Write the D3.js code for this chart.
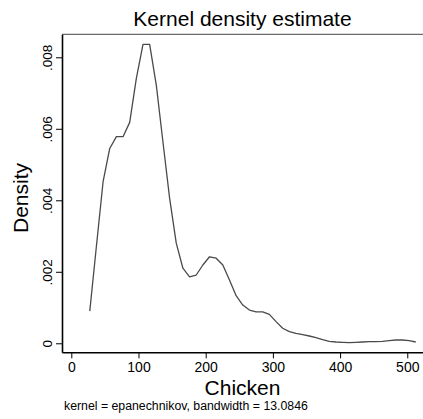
<!DOCTYPE html>
<html>
<head>
<meta charset="utf-8">
<script src="https://cdn.jsdelivr.net/npm/d3@7"></script>
<style>
  body { margin: 0; background: #fff; }
  text { font-family: Arial, "Liberation Sans", Helvetica, sans-serif; fill: #000; }
</style>
</head>
<body>
<div id="chart"></div>
<script>
// kdensity evaluation points (Chicken) and estimated density
const chicken = [27.5, 37.4, 47.3, 57.2, 67.1, 77.0, 86.9, 96.8, 106.7, 116.6,
  126.5, 136.4, 146.3, 156.2, 166.1, 176.0, 185.9, 195.8, 205.7, 215.6,
  225.5, 235.4, 245.3, 255.2, 265.1, 275.0, 284.9, 294.8, 304.7, 314.6,
  324.5, 334.4, 344.3, 354.2, 364.1, 374.0, 383.9, 393.8, 403.7, 413.6,
  423.5, 433.4, 443.3, 453.2, 463.1, 473.0, 482.9, 492.8, 502.7, 512.6];
const density = [0.00090, 0.00272, 0.00452, 0.00545, 0.00578, 0.00578, 0.00618, 0.00741, 0.00836, 0.00836,
  0.00722, 0.00563, 0.00406, 0.00280, 0.00210, 0.00186, 0.00191, 0.00219, 0.00242, 0.00238,
  0.00219, 0.00177, 0.00133, 0.00107, 0.00093, 0.00088, 0.00088, 0.00081, 0.000605, 0.00042,
  0.000325, 0.00028, 0.00024, 0.000204, 0.000157, 0.00010, 0.000056, 0.000036, 0.000028, 0.000017,
  0.000028, 0.000036, 0.000045, 0.000045, 0.000056, 0.000073, 0.000092, 0.000092, 0.000073, 0.000036];

const xTicks = [0, 100, 200, 300, 400, 500];
const yTicks = [0, 0.002, 0.004, 0.006, 0.008];
const yTickLabels = ['0', '.002', '.004', '.006', '.008'];

const title = 'Kernel density estimate';
const xTitle = 'Chicken';
const yTitle = 'Density';
const note = 'kernel = epanechnikov, bandwidth = 13.0846';

const width = 423;
const height = 419;
const plot = { left: 62, right: 423, top: 34.3, bottom: 352.3 };

const svg = d3.select('#chart').append('svg')
  .attr('width', width)
  .attr('height', height);

// plot region extends a bit past the data range on both axes
const x = d3.scaleLinear()
  .domain([-13.84, 523.4])
  .range([plot.left, plot.right]);
const y = d3.scaleLinear()
  .domain([-0.000252, 0.008643])
  .range([plot.bottom, plot.top]);

// top border of the plot region
svg.append('line')
  .attr('x1', plot.left)
  .attr('x2', plot.right)
  .attr('y1', plot.top)
  .attr('y2', plot.top)
  .attr('stroke', '#6a6a6a')
  .attr('stroke-width', 1.2);

// x axis
const xAxis = svg.append('g')
  .attr('transform', `translate(0,${plot.bottom})`)
  .call(d3.axisBottom(x).tickValues(xTicks).tickSize(6).tickSizeOuter(0).tickPadding(4));
xAxis.select('.domain').attr('stroke', '#000').attr('stroke-width', 1.6);
xAxis.selectAll('.tick line').attr('stroke', '#000').attr('stroke-width', 1);
xAxis.selectAll('.tick text')
  .attr('font-size', 14)
  .attr('font-family', 'Arial, "Liberation Sans", sans-serif')
  .attr('fill', '#000');

// y axis, labels rotated like Stata
const yAxis = svg.append('g')
  .attr('transform', `translate(${plot.left},0)`)
  .call(d3.axisLeft(y).tickValues(yTicks).tickSize(6).tickSizeOuter(0)
    .tickFormat((d, i) => yTickLabels[i]));
yAxis.select('.domain').attr('stroke', '#000').attr('stroke-width', 1.6);
yAxis.selectAll('.tick line').attr('stroke', '#000').attr('stroke-width', 1);
yAxis.selectAll('.tick text')
  .attr('font-size', 13.5)
  .attr('font-family', 'Arial, "Liberation Sans", sans-serif')
  .attr('fill', '#000')
  .attr('x', 0)
  .attr('dy', 0)
  .attr('text-anchor', 'middle')
  .attr('transform', 'translate(-10,0) rotate(-90)');

// density curve
const line = d3.line()
  .x((d, i) => x(chicken[i]))
  .y(d => y(d));

svg.append('path')
  .datum(density)
  .attr('fill', 'none')
  .attr('stroke', '#4a4a4a')
  .attr('stroke-width', 1.3)
  .attr('stroke-linejoin', 'round')
  .attr('d', line);

// titles
svg.append('text')
  .attr('x', (plot.left + plot.right) / 2)
  .attr('y', 26)
  .attr('text-anchor', 'middle')
  .attr('font-size', 21)
  .text(title);

svg.append('text')
  .attr('x', (plot.left + plot.right) / 2)
  .attr('y', 395)
  .attr('text-anchor', 'middle')
  .attr('font-size', 21)
  .text(xTitle);

svg.append('text')
  .attr('transform', 'translate(28,198) rotate(-90)')
  .attr('text-anchor', 'middle')
  .attr('font-size', 21)
  .text(yTitle);

svg.append('text')
  .attr('x', 64)
  .attr('y', 410)
  .attr('font-size', 12.3)
  .text(note);
</script>
</body>
</html>
